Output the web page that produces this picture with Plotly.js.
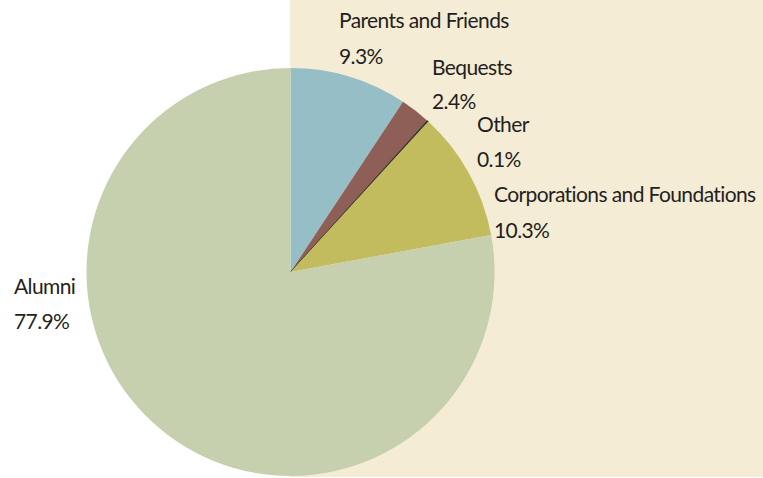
<!DOCTYPE html>
<html>
<head>
<meta charset="utf-8">
<script src="https://cdn.plot.ly/plotly-3.0.1.min.js"></script>
<style>html,body{margin:0;padding:0;background:#fff;}#chart{width:763px;height:478px;}</style>
</head>
<body>
<div id="chart"></div>
<script>
const labels = ['Parents and Friends', 'Bequests', 'Other', 'Corporations and Foundations', 'Alumni'];
const values = [9.3, 2.4, 0.1, 10.3, 77.9];
const colors = ['#95BEC6', '#8E5F56', '#2E2B28', '#C2BC5E', '#C6CFAE'];

// label placement (pixels: left x, baseline of name line, baseline of percent line)
const labelPos = [
  [338, 27, 63],
  [431, 74, 108],
  [476, 131, 166],
  [493, 201, 237],
  [13, 293, 328]
];

const W = 763, H = 478, FS = 21;
const px = x => x / W;
const py = y => 1 - y / H;

const annotations = [];
labels.forEach((lab, i) => {
  const p = labelPos[i];
  [[lab, p[1]], [values[i].toFixed(1) + '%', p[2]]].forEach(([t, b]) => {
    annotations.push({
      xref: 'paper', yref: 'paper', x: px(p[0] - 1), y: py(b - 22 * 0.36),
      xanchor: 'left', yanchor: 'middle', showarrow: false,
      text: '<span style="letter-spacing:-0.6px">' + t + '</span>',
      font: {family: 'Lato, "DejaVu Sans Condensed", sans-serif', size: FS, color: '#231F20'}
    });
  });
});

const cx = 290.5, cy = 272, r = 204;
const trace = {
  type: 'pie',
  labels: labels,
  values: values,
  sort: false,
  direction: 'clockwise',
  rotation: 0,
  textinfo: 'none',
  hoverinfo: 'none',
  marker: {
    colors: colors,
    line: {width: [0, 0, 0.8, 0, 0], color: ['#95BEC6', '#8E5F56', '#2E2B28', '#C2BC5E', '#C6CFAE']}
  },
  domain: {x: [px(cx - r), px(cx + r)], y: [py(cy + r), py(cy - r)]},
  showlegend: false
};

const layout = {
  width: W, height: H,
  margin: {l: 0, r: 0, t: 0, b: 0},
  paper_bgcolor: '#FFFFFF',
  plot_bgcolor: '#FFFFFF',
  showlegend: false,
  shapes: [{
    type: 'rect', xref: 'paper', yref: 'paper', layer: 'below',
    x0: px(290), x1: 1, y0: py(477), y1: 1,
    fillcolor: '#F5ECD6', line: {width: 0}
  }],
  annotations: annotations
};

Plotly.newPlot('chart', [trace], layout, {displayModeBar: false, staticPlot: true});
</script>
</body>
</html>
